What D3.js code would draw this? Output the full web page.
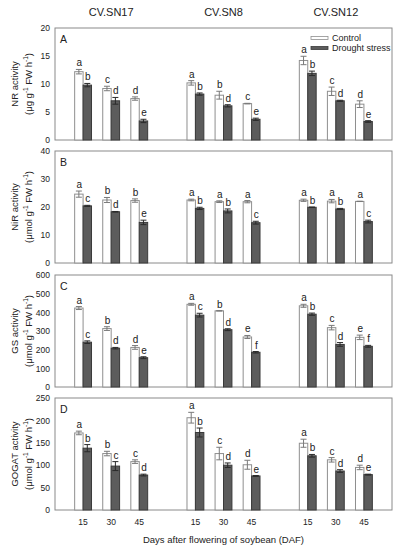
<!DOCTYPE html>
<html>
<head>
<meta charset="utf-8">
<script src="https://cdn.jsdelivr.net/npm/d3@7"></script>
<style>
body { margin: 0; background: #fff; }
</style>
</head>
<body>
<div id="chart"></div>
<script>
const cultivars = ["CV.SN17", "CV.SN8", "CV.SN12"];
const days = ["15", "30", "45"];
const treatments = ["Control", "Drought stress"];

// A: NR activity
const nrControl = [12.2, 9.2, 7.4, 10.2, 8.0, 6.5, 14.2, 8.7, 6.4];
const nrControlErr = [0.4, 0.4, 0.3, 0.4, 0.7, 0.05, 0.75, 0.75, 0.6];
const nrDrought = [9.8, 7.0, 3.4, 8.2, 6.1, 3.7, 11.9, 7.0, 3.3];
const nrDroughtErr = [0.3, 0.6, 0.3, 0.2, 0.2, 0.2, 0.4, 0.1, 0.15];
const nrControlLetters = ["a", "c", "d", "a", "b", "c", "a", "c", "d"];
const nrDroughtLetters = ["b", "d", "e", "b", "d", "e", "b", "d", "e"];

// B: NiR activity
const nirControl = [24.6, 22.5, 22.3, 22.5, 21.9, 21.9, 22.4, 22.1, 22.0];
const nirControlErr = [1.1, 0.9, 0.6, 0.3, 0.3, 0.4, 0.4, 0.6, 0.05];
const nirDrought = [20.4, 18.3, 14.5, 19.5, 18.6, 14.4, 19.9, 19.3, 14.8];
const nirDroughtErr = [0.2, 0.1, 0.8, 0.4, 0.7, 0.5, 0.1, 0.2, 0.5];
const nirControlLetters = ["a", "b", "b", "a", "a", "a", "a", "a", "a"];
const nirDroughtLetters = ["c", "d", "e", "b", "b", "c", "b", "b", "c"];

// C: GS activity
const gsControl = [423, 313, 212, 443, 408, 268, 435, 318, 266];
const gsControlErr = [8, 10, 10, 5, 1, 8, 8, 12, 12];
const gsDrought = [240, 208, 157, 385, 307, 186, 390, 228, 218];
const gsDroughtErr = [7, 4, 5, 10, 5, 4, 6, 10, 5];
const gsControlLetters = ["a", "b", "d", "a", "b", "e", "a", "c", "e"];
const gsDroughtLetters = ["c", "d", "e", "c", "d", "f", "b", "d", "f"];

// D: GOGAT activity
const gogatControl = [172, 126, 108, 206, 126, 101, 149, 112, 95];
const gogatControlErr = [4, 5, 4, 12, 14, 10, 9, 5, 5];
const gogatDrought = [138, 98, 78, 173, 100, 76, 121, 87, 79];
const gogatDroughtErr = [8, 10, 2, 10, 5, 1, 3, 3, 1];
const gogatControlLetters = ["a", "b", "c", "a", "c", "d", "a", "c", "d"];
const gogatDroughtLetters = ["b", "c", "d", "b", "d", "e", "b", "d", "e"];

const panels = [
    {id: "A", name: "NR activity", unit: ["(\u03bcg g", "-1", " FW h", "-1", ")"], max: 20, step: 5,
     control: nrControl, controlErr: nrControlErr, drought: nrDrought, droughtErr: nrDroughtErr,
     cLet: nrControlLetters, dLet: nrDroughtLetters},
    {id: "B", name: "NiR activity", unit: ["(\u03bcmol g", "-1", " FW h", "-1", ")"], max: 40, step: 10,
     control: nirControl, controlErr: nirControlErr, drought: nirDrought, droughtErr: nirDroughtErr,
     cLet: nirControlLetters, dLet: nirDroughtLetters},
    {id: "C", name: "GS activity", unit: ["(\u03bcmol g", "-1", " FW h", "-1", ")"], max: 600, step: 100,
     control: gsControl, controlErr: gsControlErr, drought: gsDrought, droughtErr: gsDroughtErr,
     cLet: gsControlLetters, dLet: gsDroughtLetters},
    {id: "D", name: "GOGAT activity", unit: ["(\u03bcmol g", "-1", " FW h", "-1", ")"], max: 250, step: 50,
     control: gogatControl, controlErr: gogatControlErr, drought: gogatDrought, droughtErr: gogatDroughtErr,
     cLet: gogatControlLetters, dLet: gogatDroughtLetters}
];

const width = 398, height = 550;
const left = 55, right = 392;
const panelTops = [28, 151, 275, 398], panelH = 112;
const font = "Arial, 'Liberation Sans', sans-serif";
const frameColor = "#8a8a8a";

const svg = d3.select("#chart").append("svg")
    .attr("width", width)
    .attr("height", height)
    .attr("font-family", font);

// slot positions: 3 days per cultivar, one empty slot between cultivars
const x = d3.scaleLinear().domain([0, 12]).range([left, right]);
const slot = (i) => 1 + Math.floor(i / 3) * 4 + (i % 3);
const barW = (x(1) - x(0)) * 0.3;

// cultivar headers
svg.selectAll(".cv")
    .data(cultivars)
    .enter().append("text")
    .attr("x", (d, i) => x(2 + i * 4))
    .attr("y", 15.5)
    .attr("text-anchor", "middle")
    .attr("font-size", 11)
    .attr("fill", "#222")
    .text(d => d);

panels.forEach(function(p, k) {
    const top = panelTops[k], bottom = top + panelH;
    const y = d3.scaleLinear().domain([0, p.max]).range([bottom, top]);
    const g = svg.append("g");

    g.append("rect")
        .attr("x", left).attr("y", top)
        .attr("width", right - left).attr("height", panelH)
        .attr("fill", "none")
        .attr("stroke", frameColor)
        .attr("stroke-width", 1);

    const yAxis = d3.axisLeft(y)
        .tickValues(d3.range(0, p.max + 1, p.step))
        .tickSize(0)
        .tickPadding(5);
    const ax = g.append("g")
        .attr("transform", "translate(" + left + ",0)")
        .call(yAxis);
    ax.select(".domain").remove();
    ax.selectAll("text").attr("font-size", 8.5).attr("fill", "#222").attr("font-family", font);

    g.append("text")
        .attr("x", 60).attr("y", top + 15)
        .attr("font-size", 10.5)
        .attr("fill", "#222")
        .text(p.id);

    // axis title, two lines
    const cy = (top + bottom) / 2;
    g.append("text")
        .attr("transform", "translate(18," + cy + ")rotate(-90)")
        .attr("text-anchor", "middle")
        .attr("font-size", 9.5)
        .attr("fill", "#222")
        .text(p.name);
    const t2 = g.append("text")
        .attr("transform", "translate(31.5," + cy + ")rotate(-90)")
        .attr("text-anchor", "middle")
        .attr("font-size", 9.5)
        .attr("fill", "#222");
    p.unit.forEach(function(s, j) {
        const sup = j % 2 === 1;
        t2.append("tspan")
            .attr("dy", sup ? -3.5 : (j > 0 ? 3.5 : 0))
            .attr("font-size", sup ? 6.5 : 9.5)
            .text(s);
    });

    const idx = d3.range(p.control.length);

    // bars
    g.selectAll(".ctrl")
        .data(idx)
        .enter().append("rect")
        .attr("x", i => x(slot(i)) - barW)
        .attr("y", i => y(p.control[i]))
        .attr("width", barW)
        .attr("height", i => bottom - y(p.control[i]))
        .attr("fill", "#fff")
        .attr("stroke", "#8f8f8f")
        .attr("stroke-width", 1);
    g.selectAll(".drt")
        .data(idx)
        .enter().append("rect")
        .attr("x", i => x(slot(i)))
        .attr("y", i => y(p.drought[i]))
        .attr("width", barW)
        .attr("height", i => bottom - y(p.drought[i]))
        .attr("fill", "#5c5c5c")
        .attr("stroke", "#3a3a3a")
        .attr("stroke-width", 1);

    // error bars
    function errBars(vals, errs, off, col) {
        idx.forEach(function(i) {
            const cx = x(slot(i)) + off;
            const y0 = y(vals[i] - errs[i]), y1 = y(vals[i] + errs[i]);
            g.append("line").attr("x1", cx).attr("x2", cx).attr("y1", y0).attr("y2", y1)
                .attr("stroke", col).attr("stroke-width", 1);
            [y0, y1].forEach(function(yy) {
                g.append("line").attr("x1", cx - 3).attr("x2", cx + 3).attr("y1", yy).attr("y2", yy)
                    .attr("stroke", col).attr("stroke-width", 1);
            });
        });
    }
    errBars(p.control, p.controlErr, -barW / 2, "#7a7a7a");
    errBars(p.drought, p.droughtErr, barW / 2, "#2a2a2a");

    // letters
    g.selectAll(".lc")
        .data(idx)
        .enter().append("text")
        .attr("x", i => x(slot(i)) - barW / 2 + 0.5)
        .attr("y", i => y(p.control[i] + p.controlErr[i]) - 3)
        .attr("text-anchor", "middle")
        .attr("font-size", 10)
        .attr("fill", "#222")
        .text(i => p.cLet[i]);
    g.selectAll(".ld")
        .data(idx)
        .enter().append("text")
        .attr("x", i => x(slot(i)) + barW / 2 + 0.5)
        .attr("y", i => y(p.drought[i] + p.droughtErr[i]) - 3)
        .attr("text-anchor", "middle")
        .attr("font-size", 10)
        .attr("fill", "#222")
        .text(i => p.dLet[i]);

    if (k === 0) {
        const leg = g.append("g");
        treatments.forEach(function(t, j) {
            const ly = top + 10 + j * 10;
            leg.append("rect")
                .attr("x", 311).attr("y", ly - 1.5)
                .attr("width", 17).attr("height", 3)
                .attr("fill", j === 0 ? "#fff" : "#5c5c5c")
                .attr("stroke", j === 0 ? "#8f8f8f" : "#3a3a3a")
                .attr("stroke-width", 0.8);
            leg.append("text")
                .attr("x", 332).attr("y", ly + 3)
                .attr("font-size", 9)
                .attr("fill", "#222")
                .text(t);
        });
    }
});

// x tick labels
svg.selectAll(".xt")
    .data(d3.range(9))
    .enter().append("text")
    .attr("x", i => x(slot(i)))
    .attr("y", 525)
    .attr("text-anchor", "middle")
    .attr("font-size", 8.5)
    .attr("fill", "#222")
    .text(i => days[i % 3]);

svg.append("text")
    .attr("x", (left + right) / 2)
    .attr("y", 543)
    .attr("text-anchor", "middle")
    .attr("font-size", 9.5)
    .attr("fill", "#222")
    .text("Days after flowering of soybean (DAF)");
</script>
</body>
</html>
